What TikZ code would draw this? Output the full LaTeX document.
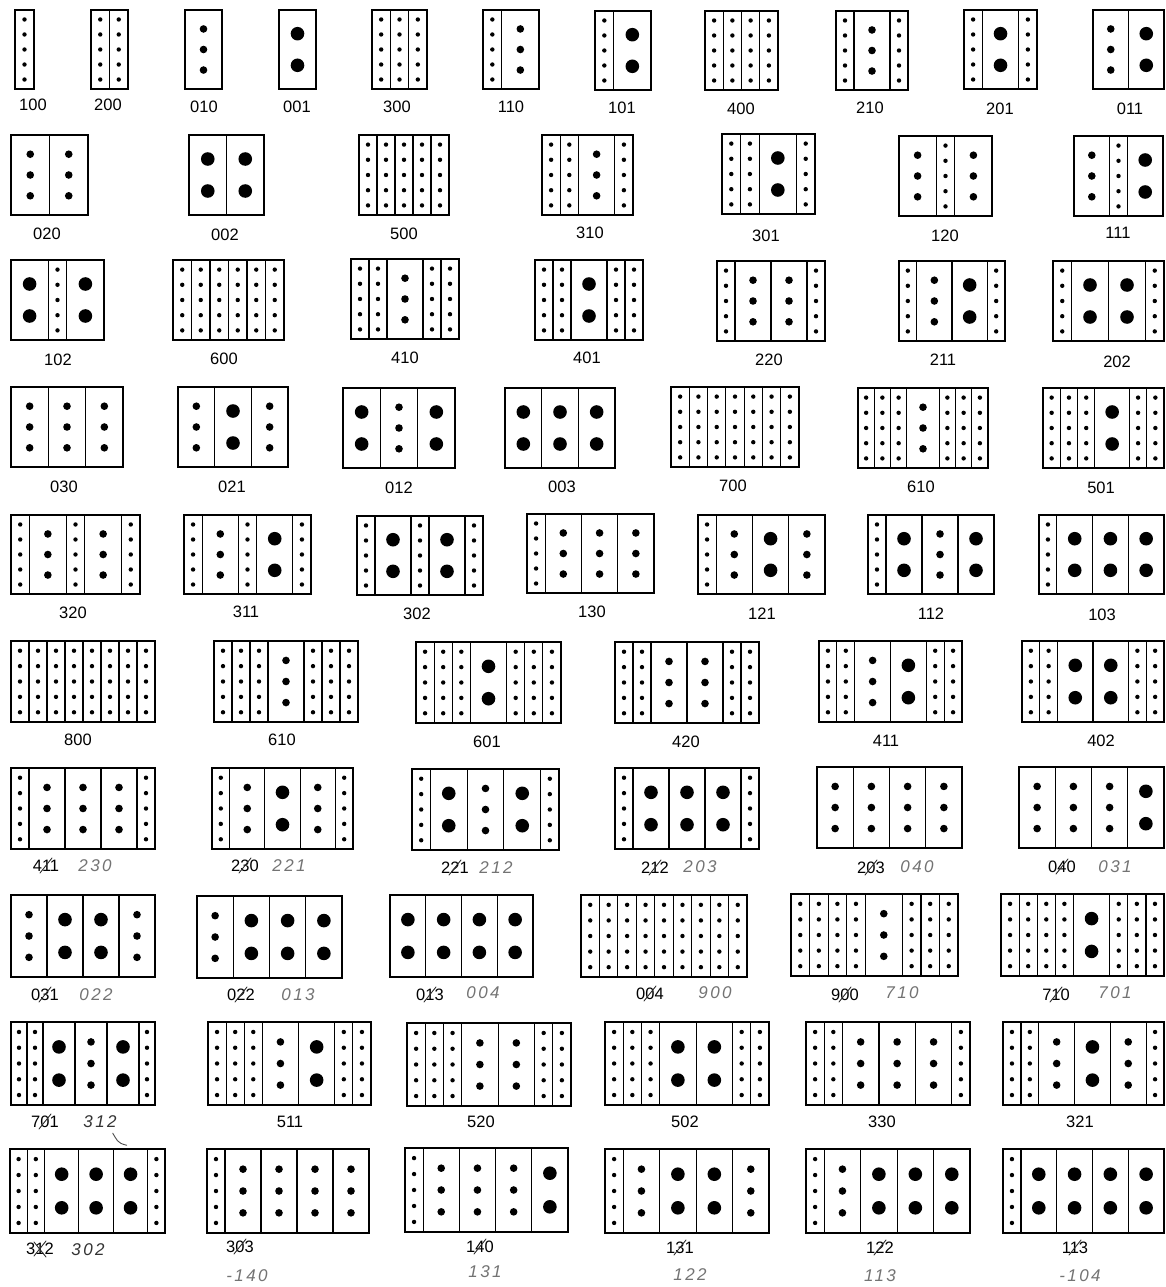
\documentclass[tikz,border=0pt]{standalone}
\usepackage{fontspec}
\setmainfont{Liberation Sans}
\newfontfamily\hwfont[LetterSpace=14]{Liberation Sans}
\tikzset{
  boxline/.style={line width=2.4pt},
  divider/.style={line width=1.2pt},
  lab/.style={font=\fontsize{16.5}{16.5}\selectfont, inner sep=0pt},
  hw/.style={font=\hwfont\itshape\fontsize{17}{17}\selectfont, text=black!55, inner sep=0pt},
  hwdark/.style={hw, text=black!80},
  strike/.style={line width=0.9pt, black!80, line cap=round},
}
\newcommand\cbox[5]{%
  \gdef\cbu{0}%
  \foreach \ct in {#5}{%
    \if N\ct \pgfmathsetmacro\cbtmp{\cbu+1}\else \pgfmathsetmacro\cbtmp{\cbu+2}\fi
    \xdef\cbu{\cbtmp}}%
  \pgfmathsetmacro\cbw{(#2-#1)/\cbu}%
  \xdef\cbx{#1}%
  \foreach \ct in {#5}{%
    \if N\ct \def\cbunit{1}\else \def\cbunit{2}\fi
    \pgfmathsetmacro\cbxb{\cbx+\cbunit*\cbw}%
    \pgfmathsetmacro\cbxc{\cbx+\cbunit*\cbw/2}%
    \draw[divider] (\cbxb,#3) -- (\cbxb,#4);
    \if N\ct
      \foreach \f in {0.12,0.31,0.5,0.69,0.88} \fill (\cbxc,{#3+\f*(#4-#3)}) circle (2.2pt);
    \else\if M\ct
      \foreach \f in {0.24,0.5,0.76} \fill (\cbxc,{#3+\f*(#4-#3)}) circle (3.8pt);
    \else
      \foreach \f in {0.3,0.7} \fill (\cbxc,{#3+\f*(#4-#3)}) circle (6.8pt);
    \fi\fi
    \xdef\cbx{\cbxb}}%
  \draw[boxline] (#1,#3) rectangle (#2,#4);
}
\newcommand\xlab[4]{%
  \node[lab] (#1) at (#2,#3) {#4};
  \draw[strike] ([shift={(-6,7)}]#1.center) -- ([shift={(6,-8)}]#1.center);
}
\begin{document}
\begin{tikzpicture}[x=1pt,y=-1pt]
\useasboundingbox (0,0) rectangle (1165,1287);
% Row 1
\cbox{15}{34}{10}{89}{N}
\cbox{91}{128}{10}{89}{N,N}
\cbox{185}{222}{10}{89}{M}
\cbox{279}{316}{10}{89}{W}
\cbox{372}{427}{10}{89}{N,N,N}
\cbox{483}{539}{10}{89}{N,M}
\cbox{595}{651}{11}{90}{N,W}
\cbox{705}{778}{11}{90}{N,N,N,N}
\cbox{836}{908}{11}{90}{N,M,N}
\cbox{964}{1037}{10}{89}{N,W,N}
\cbox{1093}{1164}{10}{89}{M,W}
\node[lab] (r1c1) at (33,105) {100};
\node[lab] (r1c2) at (108,105) {200};
\node[lab] (r1c3) at (204,107) {010};
\node[lab] (r1c4) at (297,107) {001};
\node[lab] (r1c5) at (397,107) {300};
\node[lab] (r1c6) at (511,107) {110};
\node[lab] (r1c7) at (622,108) {101};
\node[lab] (r1c8) at (741,109) {400};
\node[lab] (r1c9) at (870,108) {210};
\node[lab] (r1c10) at (1000,109) {201};
\node[lab] (r1c11) at (1130,109) {011};
% Row 2
\cbox{11}{88}{135}{215}{M,M}
\cbox{189}{264}{135}{215}{W,W}
\cbox{359}{449}{135}{215}{N,N,N,N,N}
\cbox{542}{633}{135}{215}{N,N,M,N}
\cbox{722}{815}{134}{214}{N,N,W,N}
\cbox{899}{992}{136}{216}{M,N,M}
\cbox{1074}{1163}{136}{216}{M,N,W}
\node[lab] (r2c1) at (47,234) {020};
\node[lab] (r2c2) at (225,235) {002};
\node[lab] (r2c3) at (404,234) {500};
\node[lab] (r2c4) at (590,233) {310};
\node[lab] (r2c5) at (766,236) {301};
\node[lab] (r2c6) at (945,236) {120};
\node[lab] (r2c7) at (1118,233) {111};
% Row 3
\cbox{11}{104}{260}{340}{W,N,W}
\cbox{173}{284}{260}{340}{N,N,N,N,N,N}
\cbox{351}{459}{259}{339}{N,N,M,N,N}
\cbox{535}{643}{260}{340}{N,N,W,N,N}
\cbox{717}{825}{261}{341}{N,M,M,N}
\cbox{899}{1005}{261}{341}{N,M,W,N}
\cbox{1053}{1164}{261}{341}{N,W,W,N}
\node[lab] (r3c1) at (58,360) {102};
\node[lab] (r3c2) at (224,359) {600};
\node[lab] (r3c3) at (405,358) {410};
\node[lab] (r3c4) at (587,358) {401};
\node[lab] (r3c5) at (769,360) {220};
\node[lab] (r3c6) at (943,360) {211};
\node[lab] (r3c7) at (1117,362) {202};
% Row 4
\cbox{11}{123}{387}{467}{M,M,M}
\cbox{178}{288}{387}{467}{M,W,M}
\cbox{343}{455}{388}{468}{W,M,W}
\cbox{505}{615}{388}{468}{W,W,W}
\cbox{671}{799}{387}{467}{N,N,N,N,N,N,N}
\cbox{858}{988}{388}{468}{N,N,N,M,N,N,N}
\cbox{1043}{1164}{388}{468}{N,N,N,W,N,N}
\node[lab] (r4c1) at (64,487) {030};
\node[lab] (r4c2) at (232,487) {021};
\node[lab] (r4c3) at (399,488) {012};
\node[lab] (r4c4) at (562,487) {003};
\node[lab] (r4c5) at (733,486) {700};
\node[lab] (r4c6) at (921,487) {610};
\node[lab] (r4c7) at (1101,488) {501};
% Row 5
\cbox{11}{140}{515}{594}{N,M,N,M,N}
\cbox{184}{311}{515}{594}{N,M,N,W,N}
\cbox{357}{483}{516}{595}{N,W,N,W,N}
\cbox{527}{654}{514}{593}{N,M,M,M}
\cbox{698}{825}{515}{594}{N,M,W,M}
\cbox{868}{994}{515}{594}{N,W,M,W}
\cbox{1039}{1164}{515}{594}{N,W,W,W}
\node[lab] (r5c1) at (73,613) {320};
\node[lab] (r5c2) at (246,612) {311};
\node[lab] (r5c3) at (417,614) {302};
\node[lab] (r5c4) at (592,612) {130};
\node[lab] (r5c5) at (762,614) {121};
\node[lab] (r5c6) at (931,614) {112};
\node[lab] (r5c7) at (1102,615) {103};
% Row 6
\cbox{11}{155}{641}{722}{N,N,N,N,N,N,N,N}
\cbox{214}{358}{641}{722}{N,N,N,M,N,N,N}
\cbox{416}{561}{642}{723}{N,N,N,W,N,N,N}
\cbox{615}{759}{642}{723}{N,N,M,M,N,N}
\cbox{819}{962}{641}{722}{N,N,M,W,N,N}
\cbox{1022}{1164}{641}{722}{N,N,W,W,N,N}
\node[lab] (r6c1) at (78,740) {800};
\node[lab] (r6c2) at (282,740) {610};
\node[lab] (r6c3) at (487,742) {601};
\node[lab] (r6c4) at (686,742) {420};
\node[lab] (r6c5) at (886,741) {411};
\node[lab] (r6c6) at (1101,741) {402};
% Row 7
\cbox{11}{155}{768}{849}{N,M,M,M,N}
\cbox{212}{353}{768}{849}{N,M,W,M,N}
\cbox{412}{559}{769}{850}{N,W,M,W,N}
\cbox{615}{759}{768}{849}{N,W,W,W,N}
\cbox{817}{962}{767}{848}{M,M,M,M}
\cbox{1019}{1164}{767}{848}{M,M,M,W}
\xlab{r7p1}{46}{866}{411}
\node[hw] (r7h1) at (95,866) {230};
\xlab{r7p2}{245}{866}{230}
\node[hw] (r7h2) at (289,866) {221};
\xlab{r7p3}{455}{868}{221}
\node[hw] (r7h3) at (496,868) {212};
\xlab{r7p4}{655}{868}{212}
\node[hw] (r7h4) at (700,867) {203};
\xlab{r7p5}{871}{868}{203}
\node[hw] (r7h5) at (917,867) {040};
\xlab{r7p6}{1062}{867}{040}
\node[hw] (r7h6) at (1115,867) {031};
% Row 8
\cbox{11}{155}{895}{977}{M,W,W,M}
\cbox{197}{342}{896}{978}{M,W,W,W}
\cbox{390}{533}{895}{977}{W,W,W,W}
\cbox{581}{747}{895}{977}{N,N,N,N,N,N,N,N,N}
\cbox{791}{958}{894}{976}{N,N,N,N,M,N,N,N}
\cbox{1001}{1164}{894}{976}{N,N,N,N,W,N,N,N}
\xlab{r8p1}{45}{995}{031}
\node[hw] (r8h1) at (96,995) {022};
\xlab{r8p2}{241}{995}{022}
\node[hw] (r8h2) at (298,995) {013};
\xlab{r8p3}{430}{995}{013}
\node[hw] (r8h3) at (483,993) {004};
\xlab{r8p4}{650}{994}{004}
\node[hw] (r8h4) at (715,993) {900};
\xlab{r8p5}{845}{995}{900}
\node[hw] (r8h5) at (902,993) {710};
\xlab{r8p6}{1056}{995}{710}
\node[hw] (r8h6) at (1115,993) {701};
% Row 9
\cbox{11}{155}{1022}{1105}{N,N,W,M,W,N}
\cbox{208}{371}{1022}{1105}{N,N,N,M,W,N,N}
\cbox{407}{571}{1023}{1106}{N,N,N,M,M,N,N}
\cbox{605}{769}{1022}{1105}{N,N,N,W,W,N,N}
\cbox{806}{970}{1022}{1105}{N,N,M,M,M,N}
\cbox{1003}{1164}{1022}{1105}{N,N,M,W,M,N}
\xlab{r9p1}{45}{1122}{701}
\node[hwdark] (r9h1) at (100,1122) {312};
\draw[strike, black!70] ([shift={(-4,5)}]r9h1.south east) .. controls +(4,6) and +(-10,-2) .. +(14,12);
\node[lab] (r9c2) at (290,1122) {511};
\node[lab] (r9c3) at (481,1122) {520};
\node[lab] (r9c4) at (685,1122) {502};
\node[lab] (r9c5) at (882,1122) {330};
\node[lab] (r9c6) at (1080,1122) {321};
% Row 10
\cbox{10}{165}{1149}{1233}{N,N,W,W,W,N}
\cbox{207}{369}{1149}{1233}{N,M,M,M,M}
\cbox{405}{568}{1148}{1232}{N,M,M,M,W}
\cbox{605}{769}{1149}{1233}{N,M,W,W,M}
\cbox{806}{970}{1149}{1233}{N,M,W,W,W}
\cbox{1003}{1164}{1149}{1233}{N,W,W,W,W}
\xlab{r10p1}{40}{1249}{312}
\draw[strike] ([shift={(-6,-7)}]r10p1.center) -- ([shift={(6,8)}]r10p1.center);
\node[hwdark] (r10h1) at (88,1250) {302};
\xlab{r10p2}{240}{1247}{303}
\node[hw] (r10h2) at (247,1276) {-140};
\xlab{r10p3}{480}{1247}{140}
\node[hw] (r10h3) at (485,1272) {131};
\xlab{r10p4}{680}{1248}{131}
\node[hw] (r10h4) at (690,1275) {122};
\xlab{r10p5}{880}{1248}{122}
\node[hw] (r10h5) at (880,1276) {113};
\xlab{r10p6}{1075}{1248}{113}
\node[hw] (r10h6) at (1080,1276) {-104};
\end{tikzpicture}
\end{document}
